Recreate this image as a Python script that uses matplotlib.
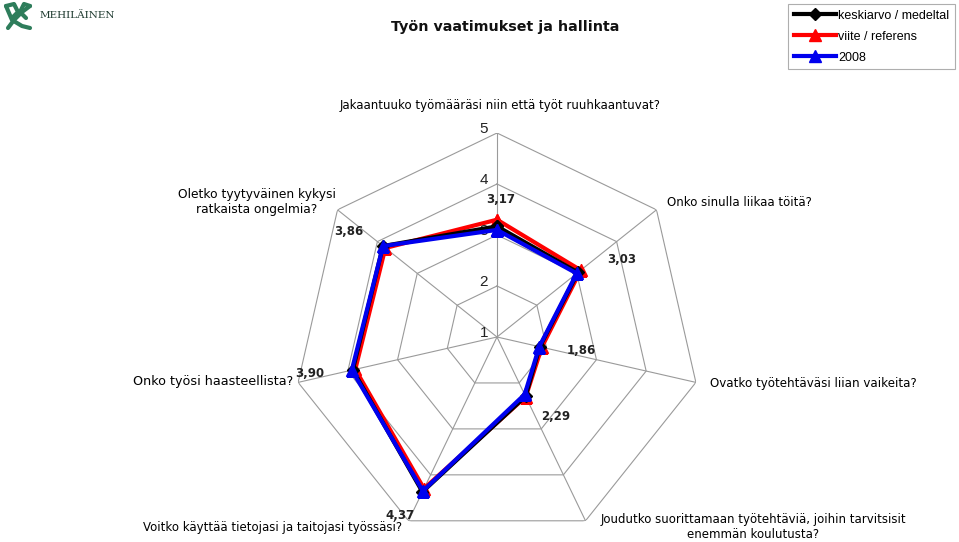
import numpy as np
import matplotlib
matplotlib.use("Agg")
import matplotlib.pyplot as plt
from matplotlib.lines import Line2D

categories = [
    "Jakaantuuko työmääräsi niin että työt ruuhkaantuvat?",
    "Onko sinulla liikaa töitä?",
    "Ovatko työtehtäväsi liian vaikeita?",
    "Joudutko suorittamaan työtehtäviä, joihin tarvitsisit\nenemmän koulutusta?",
    "Voitko käyttää tietojasi ja taitojasi työssäsi?",
    "Onko työsi haasteellista?",
    "Oletko tyytyväinen kykysi\nratkaista ongelmia?",
]
keskiarvo = [3.17, 3.03, 1.86, 2.29, 4.37, 3.90, 3.86]
viite = [3.30, 3.10, 1.90, 2.30, 4.30, 3.85, 3.80]
v2008 = [3.10, 3.00, 1.85, 2.25, 4.35, 3.92, 3.86]
series_names = ["keskiarvo / medeltal", "viite / referens", "2008"]
rticks = [1, 2, 3, 4, 5]

W, H = 959, 542
fig = plt.figure(figsize=(W / 100, H / 100), dpi=100)
fig.patch.set_facecolor("white")

cx, cy, R = 497, 337, 204
ax = fig.add_axes([(cx - R) / W, 1 - (cy + R) / H, 2 * R / W, 2 * R / H],
                  projection="polar")
ax.set_theta_zero_location("N")
ax.set_theta_direction(-1)
ax.set_ylim(1, 5)
ax.grid(False)
ax.set_xticks([])
ax.set_yticks([])
ax.spines["polar"].set_visible(False)
ax.patch.set_alpha(0)

n = len(categories)
theta = np.arange(n) * 2 * np.pi / n
theta_c = np.append(theta, theta[0])

# heptagon grid rings
for r in rticks[1:]:
    ax.plot(theta_c, [r] * (n + 1), color="#9a9a9a", lw=0.8, zorder=1)
for t in theta:
    ax.plot([t, t], [1, 5], color="#9a9a9a", lw=0.8, zorder=1)

# radial tick labels
for r in rticks:
    ax.annotate(str(r), (0, r), xytext=(-9, 4), textcoords="offset pixels",
                ha="right", va="center", fontsize=11, family="Liberation Sans",
                color="#222222")

def closed(v):
    return list(v) + [v[0]]

ax.plot(theta_c, closed(keskiarvo), color="black", lw=3, marker="D", ms=6,
        zorder=3, label=series_names[0])
ax.plot(theta_c, closed(viite), color="#ff0000", lw=3, marker="^", ms=9,
        zorder=2, label=series_names[1])
ax.plot(theta_c, closed(v2008), color="#0000ee", lw=3, marker="^", ms=9,
        zorder=4, label=series_names[2])

# data labels (black series)
label_offsets = [(4, 27), (44, 13), (42, -4), (30, -20), (-22, -24), (-43, -4), (-34, 15)]
for t, v, off in zip(theta, keskiarvo, label_offsets):
    ax.annotate(f"{v:.2f}".replace(".", ","), (t, v), xytext=off,
                textcoords="offset pixels", ha="center", va="center",
                fontsize=8.5, fontweight="bold", color="#222222",
                family="DejaVu Sans", zorder=6)

# category labels (figure pixel positions)
cat_pos = [
    (500, 105, "center", 8.5),
    (667, 202, "left", 8.5),
    (710, 383, "left", 8.6),
    (753, 527, "center", 8.5),
    (402, 528, "right", 8.5),
    (293, 382, "right", 9.2),
    (257, 202, "center", 8.8),
]
for text, (x, y, ha, fs) in zip(categories, cat_pos):
    fig.text(x / W, 1 - y / H, text, ha=ha, va="center", fontsize=fs,
             family="DejaVu Sans", color="black", linespacing=1.25,
             multialignment="center")

# title
fig.text(505 / W, 1 - 27 / H, "Työn vaatimukset ja hallinta", ha="center",
         va="center", fontsize=10.3, fontweight="bold", family="DejaVu Sans",
         color="#111111")

# legend
leg = fig.legend(loc="upper left", bbox_to_anchor=(788 / W, 1 - 4 / H),
                 frameon=True, fancybox=False, edgecolor="#9a9a9a",
                 prop={"family": "Liberation Sans", "size": 9},
                 handlelength=3.4, handletextpad=0.15, borderpad=0.45,
                 labelspacing=0.72, borderaxespad=0)
leg.get_frame().set_linewidth(0.8)

# logo: green interlaced mark + wordmark
green = "#2e7d5b"
logo_paths = [
    ([6, 12, 22, 30], [6, 20, 26, 28]),
    ([30, 22, 14, 8], [6, 12, 20, 28]),
    ([6, 14, 18, 12], [6, 4, 12, 18]),
    ([30, 24, 20, 26], [6, 4, 12, 18]),
]
for xs, ys in logo_paths:
    fig.add_artist(Line2D([x / W for x in xs], [1 - y / H for y in ys],
                          transform=fig.transFigure, color=green, lw=3,
                          solid_capstyle="round"))
fig.text(40 / W, 1 - 16 / H, "MEHILÄINEN", ha="left", va="center",
         fontsize=7.5, color="#1f3b30", family="DejaVu Serif")

fig.savefig("out.png", dpi=100, facecolor="white")
